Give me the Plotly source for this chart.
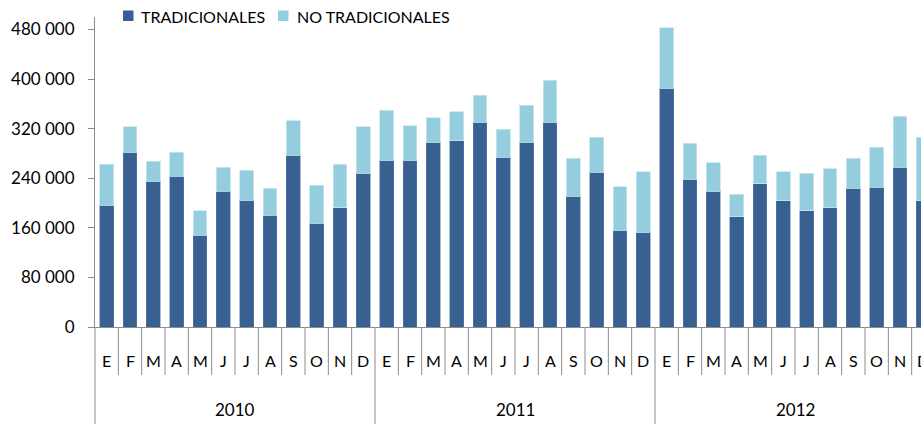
import plotly.graph_objects as go

years = ["2010", "2011", "2012"]
months = ["E", "F", "M", "A", "M", "J", "J", "A", "S", "O", "N", "D"]
series_names = ["TRADICIONALES", "NO TRADICIONALES"]

tradicionales = [
    196400, 281500, 235200, 243200, 148000, 219000, 204500, 180300, 277100, 167400, 192100, 248100,
    269100, 269100, 298100, 300800, 330400, 273900, 298100, 330400, 210900, 249700, 156100, 152800,
    385300, 238400, 219000, 177500, 230800, 203400, 187200, 192100, 223900, 225500, 257800, 204000,
]
no_tradicionales = [
    66200, 41300, 31800, 38800, 39200, 38800, 48400, 43600, 55400, 61300, 70500, 74700,
    80700, 55900, 39200, 46200, 43600, 44700, 59200, 67800, 61400, 56500, 70500, 98000,
    97300, 57600, 45700, 36700, 46300, 46800, 60900, 62900, 48400, 64100, 82300, 102200,
]
y_ticks = [0, 80000, 160000, 240000, 320000, 400000, 480000]

DARK = "#386192"
LIGHT = "#94CDDE"
GRAY = "#8C8C8C"
FONT = "Lato"

n = len(years) * len(months)
xs = list(range(n))  # month index, one per (year, month) category

W, H = 921, 424
ML, MR, MT, MB = 95, 0, 17, 97
x0, x1 = -0.5, 34.9   # right edge cut off as in the reference
plot_w = W - ML - MR
plot_h = H - MT - MB


def px(i):
    return (i - x0) / (x1 - x0)


def py(pix_below_axis):
    return -pix_below_axis / plot_h


def ppx(pix):  # page pixel x -> paper
    return (pix - ML) / plot_w


def ppy(pix):  # page pixel y -> paper
    return (H - MB - pix) / plot_h


fig = go.Figure()
fig.add_bar(x=xs, y=tradicionales, name=series_names[0], marker_color=DARK,
            marker_line=dict(color="#5a7fae", width=0.5), showlegend=False)
fig.add_bar(x=xs, y=no_tradicionales, name=series_names[1], marker_color=LIGHT,
            marker_line=dict(color="#c9e6ee", width=0.8), showlegend=False)

shapes = []
annotations = []
for k in range(n + 1):
    b = k - 0.5
    xp = px(b)
    if xp < -1e-9 or xp > 1.2:
        continue
    is_year = (k % 12 == 0)
    shapes.append(dict(type="line", xref="paper", yref="paper", x0=xp, x1=xp,
                       y0=0, y1=py(97 if is_year else 48),
                       line=dict(color=GRAY, width=1)))
for k in xs:
    xp = px(k)
    if xp > 1.05:
        continue
    annotations.append(dict(x=xp, y=py(33), xref="paper", yref="paper",
                            text=months[k % 12], showarrow=False,
                            font=dict(family=FONT, size=16, color="#000000"),
                            xanchor="center", yanchor="middle"))
for j, yr in enumerate(years):
    xp = px(j * 12 + 5.5)
    annotations.append(dict(x=xp, y=py(82), xref="paper", yref="paper",
                            text=yr, showarrow=False,
                            font=dict(family=FONT, size=17, color="#000000"),
                            xanchor="center", yanchor="middle"))

# legend (drawn to match the reference's compact spacing)
legend_items = [(series_names[0], DARK, 123, 139), (series_names[1], LIGHT, 278, 295)]
for name, color, sx, tx in legend_items:
    shapes.append(dict(type="rect", xref="paper", yref="paper",
                       x0=ppx(sx), x1=ppx(sx + 10.5), y0=ppy(10.5), y1=ppy(21),
                       fillcolor=color, line=dict(width=0)))
    annotations.append(dict(x=ppx(tx), y=ppy(16), xref="paper", yref="paper",
                            text=name, showarrow=False,
                            font=dict(family=FONT, size=16, color="#000000"),
                            xanchor="left", yanchor="middle"))

fig.update_layout(
    width=W, height=H,
    margin=dict(l=ML, r=MR, t=MT, b=MB),
    barmode="stack",
    bargap=0.41,
    plot_bgcolor="white",
    paper_bgcolor="white",
    separators=", ",
    font=dict(family=FONT, size=17, color="#000000"),
    showlegend=False,
    xaxis=dict(range=[x0, x1], showticklabels=False, ticks="",
               showgrid=False, zeroline=False, showline=True, linecolor=GRAY, linewidth=1,
               fixedrange=True),
    yaxis=dict(range=[0, 500000], tickvals=y_ticks, tickformat=",d",
               ticks="outside", ticklen=6, tickcolor=GRAY, tickwidth=1,
               showline=True, linecolor=GRAY, linewidth=1,
               showgrid=False, zeroline=False, ticklabelstandoff=10,
               tickfont=dict(family=FONT, size=17, color="#000000"), fixedrange=True),
    shapes=shapes,
    annotations=annotations,
)

fig.write_html("out.html", config={"displayModeBar": False},
               post_script="document.body.style.margin='0';document.body.style.overflow='hidden';")
